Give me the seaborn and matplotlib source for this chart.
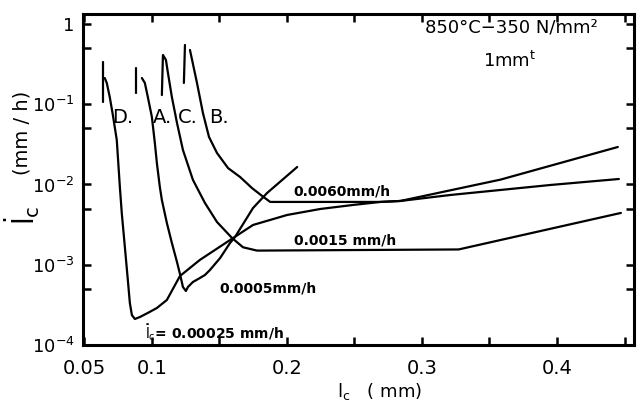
import numpy as np
import pandas as pd
import matplotlib
matplotlib.use("Agg")
import matplotlib.pyplot as plt
import seaborn as sns

# ---- data ----
D_spike_x = [0.0636, 0.0636]
D_spike_y = [0.336, 0.107]
D_x = [0.0651, 0.0666, 0.0688, 0.0711, 0.0740, 0.0763, 0.0777, 0.0800, 0.0822, 0.0837,
       0.0852, 0.0874, 0.0911, 0.0970, 0.1037, 0.1111, 0.1208, 0.1356, 0.1601, 0.1749,
       0.2002, 0.2247, 0.2491, 0.2692, 0.2840, 0.3211, 0.3953, 0.4458]
D_y = [0.212, 0.184, 0.123, 0.0735, 0.0359, 0.0093, 0.00442, 0.00166, 0.000646, 0.000333,
       0.000236, 0.000211, 0.000223, 0.000251, 0.000289, 0.000364, 0.000724, 0.00115, 0.00215, 0.00313,
       0.00417, 0.00495, 0.00556, 0.00606, 0.00623, 0.00740, 0.00986, 0.0117]

A_spike_x = [0.0881, 0.0881]
A_spike_y = [0.283, 0.138]
A_x = [0.0926, 0.0948, 0.0970, 0.1000, 0.1022, 0.1037, 0.1059, 0.1074, 0.1111, 0.1148,
       0.1186, 0.1208, 0.1230, 0.1252, 0.1267, 0.1304, 0.1356, 0.1393, 0.1430, 0.1505,
       0.1579, 0.1616, 0.1749, 0.1853, 0.2076]
A_y = [0.212, 0.184, 0.123, 0.0694, 0.0329, 0.0185, 0.0093, 0.00641, 0.00331, 0.00187,
       0.00108, 0.000767, 0.000528, 0.000471, 0.000528, 0.000610, 0.000684, 0.000745, 0.000860, 0.00121,
       0.00187, 0.00222, 0.00509, 0.00783, 0.0165]

C_x = [0.1074, 0.1082, 0.1104, 0.1119, 0.1148, 0.1186, 0.1230, 0.1304, 0.1393, 0.1482,
       0.1594, 0.1675, 0.1779, 0.3271, 0.4473]
C_y = [0.130, 0.411, 0.356, 0.245, 0.123, 0.0584, 0.0269, 0.0114, 0.00588, 0.00341,
       0.00215, 0.00165, 0.00150, 0.00155, 0.00442]

B_spike_x = [0.1245, 0.1237]
B_spike_y = [0.547, 0.184]
B_x = [0.1282, 0.1334, 0.1378, 0.1423, 0.1482, 0.1564, 0.1653, 0.1742, 0.1816, 0.1876,
       0.2692, 0.2840, 0.3582, 0.4450]
B_y = [0.474, 0.184, 0.0778, 0.0391, 0.0247, 0.0160, 0.0124, 0.00900, 0.00720, 0.00606,
       0.00606, 0.00623, 0.0115, 0.0293]

curve_labels = ["D.", "A.", "C.", "B."]
curve_label_x = [0.0785, 0.1082, 0.1267, 0.1497]
curve_label_y = [0.0674, 0.0674, 0.0674, 0.0674]

rate_labels = ["0.0060mm/h", "0.0015 mm/h", "0.0005mm/h",
               r"$\dot{\mathrm{l}}_\mathrm{c}$= 0.00025 mm/h"]
rate_label_x = [0.241, 0.2432, 0.1861, 0.1467]
rate_label_y = [0.00807, 0.00198, 0.000513, 0.000145]

x_ticks = [0.05, 0.1, 0.2, 0.3, 0.4]
x_tick_labels = ["0.05", "0.1", "0.2", "0.3", "0.4"]
x_minor = [0.15, 0.25, 0.35, 0.45]
y_ticks = [1e-4, 1e-3, 1e-2, 1e-1, 1]
y_tick_labels = [r"$10^{-4}$", r"$10^{-3}$", r"$10^{-2}$", r"$10^{-1}$", "1"]
y_minor = [5e-4, 5e-3, 5e-2, 5e-1]

# ---- build long table ----
segs = [("Dspike", D_spike_x, D_spike_y), ("D", D_x, D_y),
        ("Aspike", A_spike_x, A_spike_y), ("A", A_x, A_y),
        ("C", C_x, C_y),
        ("Bspike", B_spike_x, B_spike_y), ("B", B_x, B_y)]
rows = []
for name, xs, ys in segs:
    for i, (xv, yv) in enumerate(zip(xs, ys)):
        rows.append({"seg": name, "order": i, "x": xv, "y": yv})
df = pd.DataFrame(rows)

sns.set_style("ticks")
plt.rcParams['font.family'] = ['DejaVu Sans']
plt.rcParams['mathtext.default'] = 'regular'
plt.rcParams['text.color'] = 'black'
plt.rcParams['axes.labelcolor'] = 'black'
plt.rcParams['xtick.color'] = 'black'
plt.rcParams['ytick.color'] = 'black'

fig = plt.figure(figsize=(6.44, 4.05), dpi=100)
ax = fig.add_axes([83/644, 1-345/405, (634-83)/644, (345-14)/405])

sns.lineplot(data=df, x="x", y="y", units="seg", estimator=None, sort=False,
             color="black", lw=1.6, ax=ax, legend=False)

ax.set_yscale("log")
ax.set_xlim(0.049, 0.457)
ax.set_ylim(1e-4, 1.33)
ax.set_xticks(x_ticks)
ax.set_xticklabels(x_tick_labels)
ax.set_xticks(x_minor, minor=True)
ax.set_yticks(y_ticks)
ax.set_yticklabels(y_tick_labels)
ax.set_yticks(y_minor, minor=True)
ax.yaxis.set_minor_formatter(matplotlib.ticker.NullFormatter())
ax.tick_params(which="both", direction="in", length=6, width=1.8,
               top=True, right=True, colors="black")
ax.tick_params(axis="x", labelsize=14, pad=10)
ax.tick_params(axis="y", labelsize=13, pad=6)
for s in ax.spines.values():
    s.set_linewidth(2.2)
    s.set_color("black")
ax.set_xlabel("")
ax.set_ylabel("")

for t, xv, yv in zip(curve_labels, curve_label_x, curve_label_y):
    ax.text(xv, yv, t, fontsize=14, ha="center", va="center", color="black")
for t, xv, yv in zip(rate_labels, rate_label_x, rate_label_y):
    ax.text(xv, yv, t, fontsize=10, fontweight="bold", ha="center", va="center", color="black")

ax.text(0.3663, 0.892, "850°C−350 N/mm²", fontsize=13, ha="center", va="center", color="black")
ax.text(0.3649, 0.346, r"1mm$^\mathrm{t}$", fontsize=13, ha="center", va="center", color="black")

fig.text(380/644, 1-391/405, r"$\mathrm{l_c}$   ( mm)", fontsize=13, ha="center", va="center",
         color="black")
fig.text(22/644, 1-215/405, r"$\dot{\mathrm{l}}_\mathrm{c}$", fontsize=20, rotation=90,
         ha="center", va="center", color="black")
fig.text(22/644, 1-133/405, "(mm / h)", fontsize=14, rotation=90, ha="center", va="center",
         color="black")

fig.savefig("out.png", dpi=100, facecolor="white")
